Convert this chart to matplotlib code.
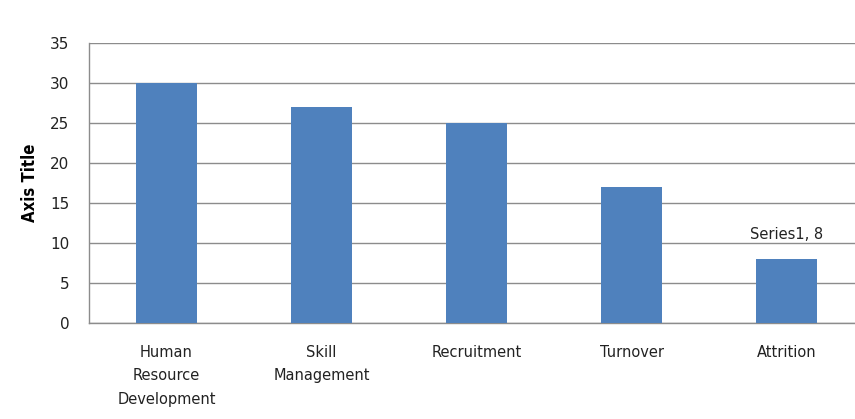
import matplotlib
matplotlib.use('Agg')
import matplotlib.pyplot as plt

# Chart data
categories = ['Human\nResource\nDevelopment', 'Skill\nManagement', 'Recruitment', 'Turnover', 'Attrition']
values = [30, 27, 25, 17, 8]
series_name = 'Series1'
y_ticks = [0, 5, 10, 15, 20, 25, 30, 35]

BAR_COLOR = '#4F81BD'
GRID_COLOR = '#8C8C8C'

fig = plt.figure(figsize=(8.55, 4.19), dpi=100)
ax = fig.add_axes([89 / 855, 1 - 323 / 419, 775 / 855, 280 / 419])

x = list(range(len(categories)))
bars = ax.bar(x, values, width=0.39, color=BAR_COLOR, zorder=3)

ax.set_xlim(-0.5, len(categories) - 0.5)
ax.set_ylim(0, 35)
ax.set_yticks(y_ticks)
ax.set_xticks(x)
ax.set_xticklabels(categories, fontsize=10.5, color='#222222', linespacing=1.68)
ax.tick_params(axis='y', labelsize=11, colors='#222222', length=0, pad=14)
ax.tick_params(axis='x', length=0, pad=16)

ax.grid(axis='y', color=GRID_COLOR, linewidth=1.0, zorder=0)
for side in ['top', 'right']:
    ax.spines[side].set_visible(False)
for side in ['left', 'bottom']:
    ax.spines[side].set_color(GRID_COLOR)
    ax.spines[side].set_linewidth(1.0)

ax.set_ylabel('Axis Title', fontsize=12, fontweight='bold', labelpad=8,
              fontstretch='condensed')

# Data label on the last bar only
last = bars[-1]
ax.text(last.get_x() + last.get_width() / 2, values[-1] + 2.1,
        f'{series_name}, {values[-1]}', ha='center', va='bottom',
        fontsize=10.5, color='#222222')

fig.savefig('out.png', dpi=100)
